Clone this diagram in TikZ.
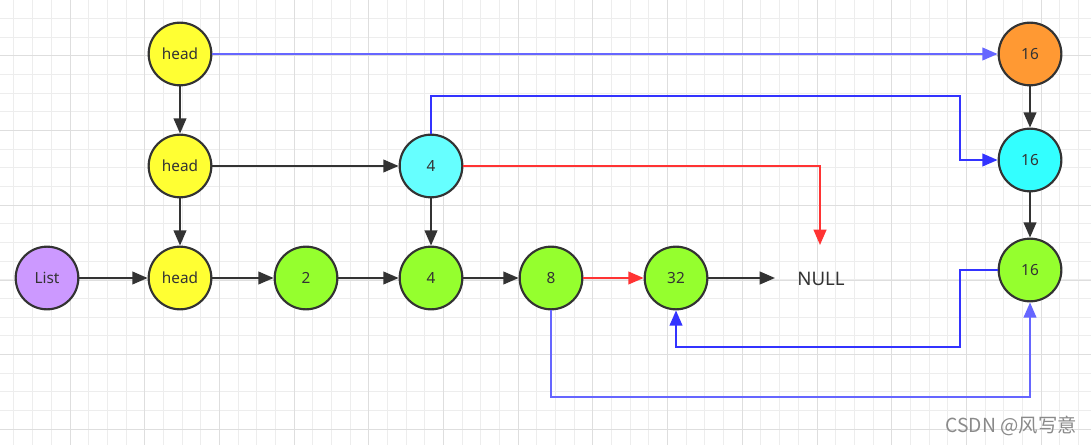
\documentclass[tikz,border=0pt]{standalone}
\usepackage{fontspec}
\setmainfont{Noto Sans}
\newfontfamily\cjkfont{Noto Sans CJK SC}
\usetikzlibrary{arrows.meta}
\definecolor{gridminor}{HTML}{EDEDED}
\definecolor{gridmajor}{HTML}{DEDEDE}
\definecolor{edge}{HTML}{333333}
\definecolor{cyellow}{HTML}{FFFF33}
\definecolor{cgreen}{HTML}{95FF2E}
\definecolor{ccyanA}{HTML}{66FFFF}
\definecolor{ccyanB}{HTML}{33FFFF}
\definecolor{corange}{HTML}{FF9933}
\definecolor{cpurple}{HTML}{CC99FF}
\definecolor{bblue}{HTML}{3333FF}
\definecolor{lblue}{HTML}{6666FF}
\definecolor{cred}{HTML}{FF3333}
\definecolor{wmgray}{HTML}{8A8A8A}
\tikzset{
  listnode/.style={circle, draw=edge, line width=1.6pt, minimum size=47pt, inner sep=0pt,
    font=\fontsize{11.5}{13}\selectfont, text=edge},
  conn/.style={line width=1.6pt, -{Triangle[length=11.5pt,width=9.5pt]}},
  darkconn/.style={conn, draw=edge, -{Triangle[length=11.5pt,width=9.5pt,fill=edge]}},
  blueconn/.style={conn, draw=bblue},
  lblueconn/.style={conn, draw=lblue},
  redconn/.style={conn, draw=cred},
}
\begin{document}
\begin{tikzpicture}[x=0.75pt,y=-0.75pt]
\useasboundingbox (0,0) rectangle (1091,445);
\fill[white] (0,0) rectangle (1091,445);
% grid
\foreach \i in {0,...,59} {\draw[gridminor, line width=0.75pt] ({-4.7+18.675*\i},0) -- ({-4.7+18.675*\i},445);}
\foreach \i in {0,...,24} {\draw[gridminor, line width=0.75pt] (0,{-0.3+18.675*\i}) -- (1091,{-0.3+18.675*\i});}
\foreach \i in {0,...,15} {\draw[gridmajor, line width=0.75pt] ({-4.7+74.7*\i},0) -- ({-4.7+74.7*\i},445);}
\foreach \i in {0,...,6} {\draw[gridmajor, line width=0.75pt] (0,{-18.7+74.7*\i}) -- (1091,{-18.7+74.7*\i});}

% nodes
\node[listnode, fill=cyellow] (h1) at (180,54) {head};
\node[listnode, fill=cyellow] (h2) at (180,166) {head};
\node[listnode, fill=cyellow] (h3) at (180,278) {head};
\node[listnode, fill=cpurple] (list) at (47,278) {List};
\node[listnode, fill=cgreen] (n2) at (306,278) {2};
\node[listnode, fill=cgreen] (n4) at (431,278) {4};
\node[listnode, fill=ccyanA] (c4) at (431,166) {4};
\node[listnode, fill=cgreen] (n8) at (551,278) {8};
\node[listnode, fill=cgreen] (n32) at (676,278) {32};
\node[listnode, fill=corange] (o16) at (1030,54) {16};
\node[listnode, fill=ccyanB] (c16) at (1030,160) {16};
\node[listnode, fill=cgreen] (g16) at (1030,270) {16};
\node[text=edge, font=\fontsize{14}{16}\selectfont] (null) at (821,279) {NULL};
\node[text=wmgray, font=\cjkfont\fontsize{14.5}{16}\selectfont, anchor=east, inner sep=0pt] (wm) at (1077,426) {CSDN @风写意};
\coordinate (nullin) at (775,278);
\coordinate (nulltop) at (820,245);

% dark connectors
\draw[darkconn] (h1) -- (h2);
\draw[darkconn] (h2) -- (h3);
\draw[darkconn] (h2) -- (c4);
\draw[darkconn] (list) -- (h3);
\draw[darkconn] (h3) -- (n2);
\draw[darkconn] (n2) -- (n4);
\draw[darkconn] (n4) -- (n8);
\draw[darkconn] (c4) -- (n4);
\draw[darkconn] (n32) -- (nullin);
\draw[darkconn] (o16) -- (c16);
\draw[darkconn] (c16) -- (g16);

% red connectors
\draw[redconn] (n8) -- (n32);
\draw[redconn] (c4.east) -| (nulltop);

% blue connectors
\draw[lblueconn] (h1) -- (o16);
\draw[blueconn] (c4.north) |- (960,96) |- (c16.west);
\draw[blueconn] (g16.west) -| (960,347) -| (n32.south);
\draw[lblueconn] (n8.south) |- (1030,397) -- (g16.south);
\end{tikzpicture}
\end{document}
